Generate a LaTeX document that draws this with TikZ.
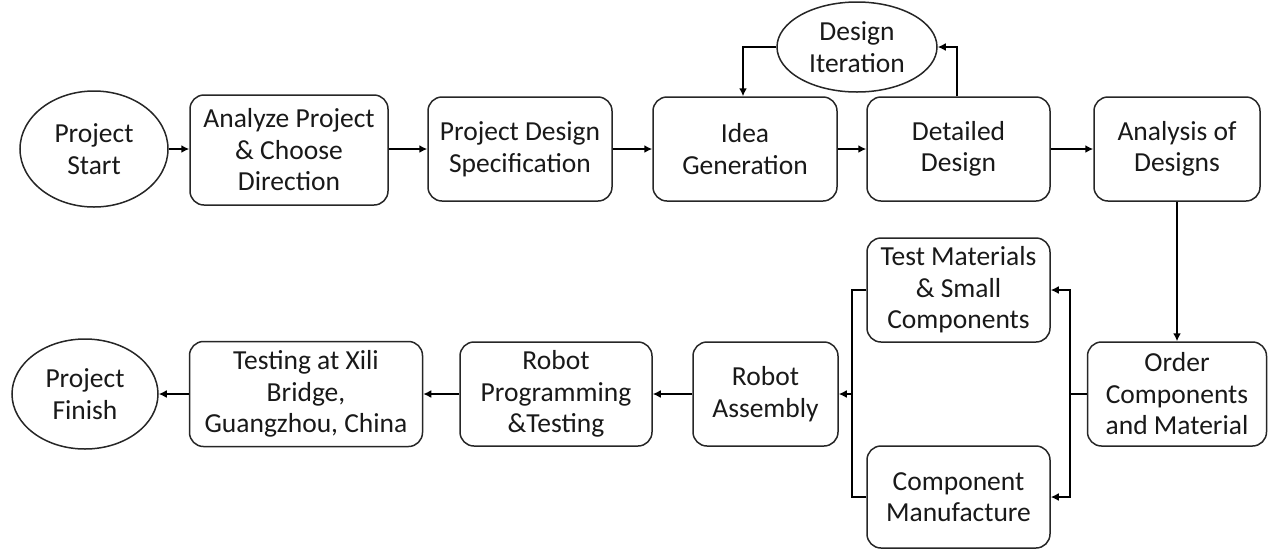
\documentclass[tikz,border=0pt]{standalone}
\usepackage{fontspec}
\setmainfont{Carlito}
\usetikzlibrary{shapes.geometric,arrows.meta}
\begin{document}
\begin{tikzpicture}[x=1pt,y=-1pt,
  box/.style={draw=black!85,line width=1.5pt,rounded corners=14pt,align=center,
    font=\fontsize{27.5}{31.5}\selectfont,text=black!90,inner sep=0pt},
  oval/.style={draw=black!85,line width=1.5pt,ellipse,align=center,
    font=\fontsize{27.5}{31.5}\selectfont,text=black!90,inner sep=0pt},
  conn/.style={line width=1.8pt,black},
  arr/.style={conn,-{Latex[length=8pt,width=8pt]}}]
\useasboundingbox (0,0) rectangle (1270,550);
\node[oval,minimum width=148pt,minimum height=116pt] (start) at (94,149) {Project\\Start};
\node[box,minimum width=198pt,minimum height=110pt] (analyze) at (289,150) {Analyze Project\\\& Choose\\Direction};
\node[box,minimum width=184pt,minimum height=104pt] (pds) at (520,149) {Project Design\\Specification};
\node[box,minimum width=184pt,minimum height=104pt] (idea) at (745,149) {Idea\\Generation};
\node[box,minimum width=183pt,minimum height=104pt] (detail) at (958.5,149) {Detailed\\Design};
\node[box,minimum width=166pt,minimum height=104pt] (analysis) at (1177,149) {Analysis of\\Designs};
\node[oval,minimum width=160pt,minimum height=90pt] (iter) at (857,47) {Design\\Iteration};
\node[box,minimum width=179pt,minimum height=104pt] (order) at (1177,394) {Order\\Components\\and Material};
\node[box,minimum width=183pt,minimum height=104pt] (test) at (958.5,290) {Test Materials\\\& Small\\Components};
\node[box,minimum width=183pt,minimum height=102pt] (manuf) at (958.5,497) {Component\\Manufacture};
\node[box,minimum width=145pt,minimum height=104pt] (assembly) at (765.5,394) {Robot\\Assembly};
\node[box,minimum width=192pt,minimum height=104pt] (prog) at (556,394) {Robot\\Programming\\\&Testing};
\node[box,minimum width=233pt,minimum height=105pt] (xili) at (306,394) {Testing at Xili\\Bridge,\\Guangzhou, China};
\node[oval,minimum width=146pt,minimum height=110pt] (finish) at (85,394) {Project\\Finish};
\coordinate (rb) at (1070,394);
\coordinate (lb) at (852,394);
\draw[arr] (start.east) -- (analyze.west |- start.east);
\draw[arr] (analyze.east |- pds.west) -- (pds.west);
\draw[arr] (pds.east) -- (idea.west);
\draw[arr] (idea.east) -- (detail.west);
\draw[arr] (detail.east) -- (analysis.west);
\draw[arr] (iter.west) -| ([xshift=-2pt]idea.north);
\draw[arr] ([xshift=-1.5pt]detail.north) |- (iter.east);
\draw[arr] (analysis.south) -- (order.north);
\draw[conn] (order.west) -- (rb);
\draw[arr] (rb) |- (test.east);
\draw[arr] (rb) |- (manuf.east);
\draw[conn] (test.west) -| (lb);
\draw[conn] (manuf.west) -| (lb);
\draw[arr] (lb) -- (assembly.east);
\draw[arr] (assembly.west) -- (prog.east);
\draw[arr] (prog.west) -- (xili.east);
\draw[arr] (xili.west) -- (finish.east);
\end{tikzpicture}
\end{document}
